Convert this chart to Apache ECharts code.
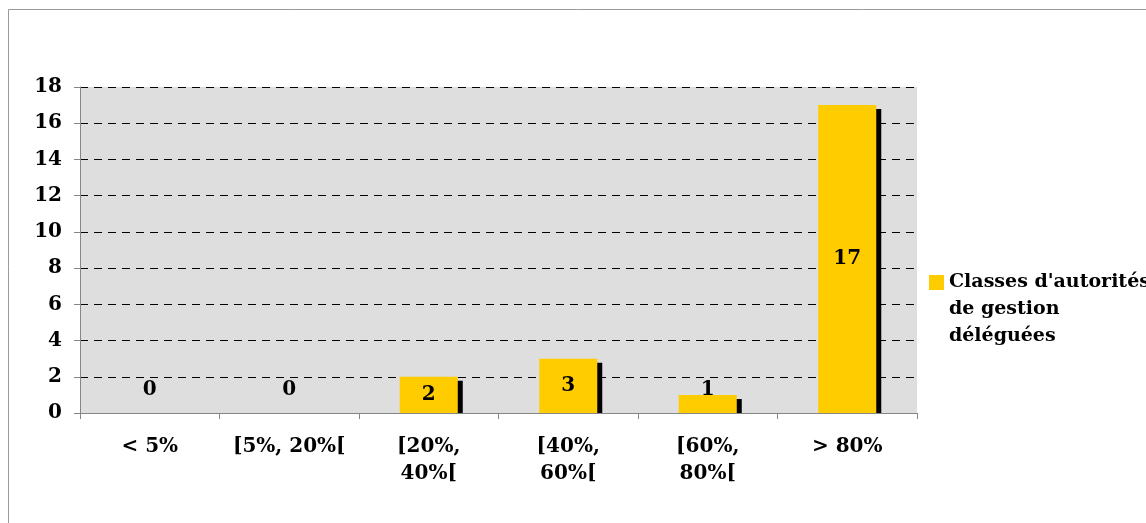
<!DOCTYPE html>
<html>
<head>
<meta charset="utf-8">
<script src="https://cdn.jsdelivr.net/npm/echarts@6/dist/echarts.min.js"></script>
<style>
html,body{margin:0;padding:0;background:#fff;}
#main{width:1146px;height:523px;}
</style>
</head>
<body>
<div id="main"></div>
<script>
const categories = ["< 5%", "[5%, 20%[", "[20%, 40%[", "[40%, 60%[", "[60%, 80%[", "> 80%"];
const values = [0, 0, 2, 3, 1, 17];
const seriesName = "Classes d'autorités de gestion déléguées";
const yTicks = [0, 2, 4, 6, 8, 10, 12, 14, 16, 18];

const FONT = "DejaVu Serif";
const BAR_FRAC = 0.416;

const chart = echarts.init(document.getElementById('main'), null, {renderer: 'canvas'});

const barData = values.map(v => ({
  value: v,
  label: v < 2 ? {position: 'insideBottom', distance: 13} : {position: 'inside'}
}));

const option = {
  animation: false,
  backgroundColor: '#ffffff',
  graphic: [{
    type: 'rect', z: -10, silent: true,
    shape: {x: 8.5, y: 9.5, width: 1400, height: 800},
    style: {fill: 'none', stroke: '#9a9a9a', lineWidth: 1}
  }],
  grid: {
    left: 80, right: 229, top: 87, bottom: 110,
    show: true, backgroundColor: '#dedede', borderWidth: 0
  },
  legend: {
    data: [seriesName],
    orient: 'vertical',
    left: 924, top: 210,
    itemWidth: 15, itemHeight: 15,
    itemGap: 0,
    icon: 'rect',
    formatter: () => "\n\nClasses d'autorités\nde gestion\ndéléguées",
    textStyle: {
      fontFamily: FONT, fontWeight: 'bold', fontSize: 19, color: '#000',
      lineHeight: 27
    }
  },
  xAxis: {
    type: 'category',
    data: categories,
    axisLine: {show: true, lineStyle: {color: '#868686', width: 1}},
    axisTick: {show: true, interval: 0, alignWithLabel: false, length: 6, lineStyle: {color: '#868686'}},
    axisLabel: {
      interval: 0,
      fontFamily: FONT, fontWeight: 'bold', fontSize: 20, color: '#000',
      lineHeight: 27, margin: 20,
      formatter: v => v.length > 9 ? v.replace(', ', ',\n') : v
    },
    splitLine: {show: false}
  },
  yAxis: {
    type: 'value',
    min: 0, max: 18, interval: 2,
    axisLine: {show: true, lineStyle: {color: '#868686', width: 1}},
    axisTick: {show: true, length: 6, lineStyle: {color: '#868686'}},
    axisLabel: {
      fontFamily: FONT, fontWeight: 'bold', fontSize: 20, color: '#000', margin: 18,
      formatter: v => yTicks.includes(v) ? String(v) : ''
    },
    splitLine: {show: true, lineStyle: {color: '#000', type: [8, 6], width: 1}}
  },
  series: [
    {
      type: 'custom',
      name: 'shadow',
      z: 1,
      silent: true,
      data: values.map((v, i) => [i, v]),
      renderItem: function (params, api) {
        const v = api.value(1);
        if (v <= 0) return null;
        const top = api.coord([api.value(0), v]);
        const base = api.coord([api.value(0), 0]);
        const w = api.size([1, 0])[0] * BAR_FRAC;
        return {
          type: 'rect',
          shape: {x: top[0] - w / 2 + 5, y: top[1] + 4, width: w, height: base[1] - top[1] - 4},
          style: {fill: '#000'}
        };
      }
    },
    {
      type: 'bar',
      name: seriesName,
      z: 3,
      data: barData,
      barWidth: (BAR_FRAC * 100) + '%',
      itemStyle: {color: '#ffcc00'},
      label: {
        show: true,
        fontFamily: FONT, fontWeight: 'bold', fontSize: 20, color: '#000'
      }
    }
  ]
};
chart.setOption(option);
</script>
</body>
</html>
